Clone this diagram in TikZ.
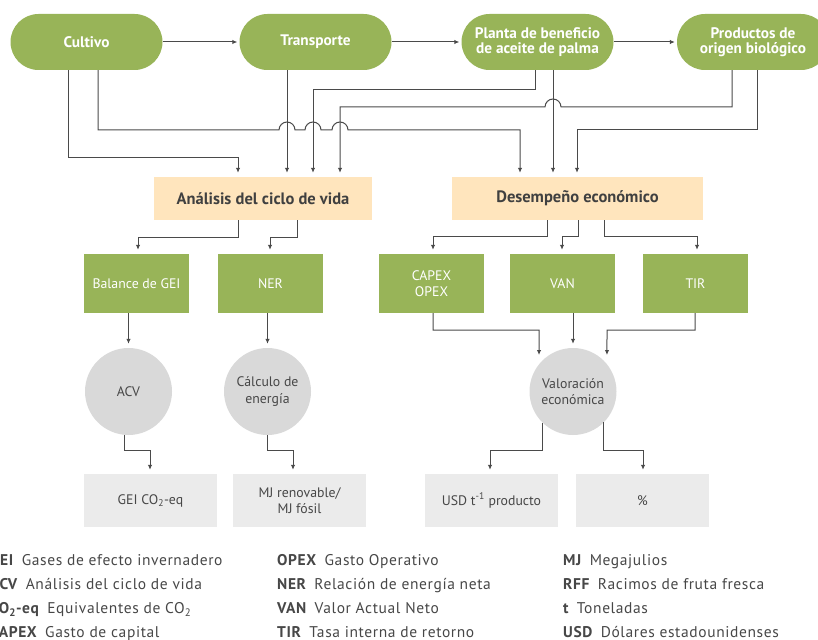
\documentclass[tikz,border=0pt]{standalone}
\usepackage{fontspec}
\setmainfont{PT Sans}
\usetikzlibrary{arrows.meta}

\definecolor{leaf}{HTML}{98B458}
\definecolor{sand}{HTML}{FFE5BD}
\definecolor{disc}{HTML}{D9D9D9}
\definecolor{pale}{HTML}{EBEBEB}
\definecolor{ink}{HTML}{474747}
\definecolor{wire}{HTML}{4A4A4A}

\newcommand{\glossfont}{\fontsize{15.5}{17}\selectfont\addfontfeatures{LetterSpace=4}}

\begin{document}
\begin{tikzpicture}[x=1pt,y=1pt,
  pill/.style={fill=leaf, rounded corners=28pt, minimum width=152pt, minimum height=56pt,
    inner sep=0pt, text=white, align=center, font=\bfseries\fontsize{15.3}{15}\selectfont},
  stage/.style={fill=sand, minimum height=43pt, inner sep=0pt, text=ink!90!black,
    font=\bfseries\fontsize{16.5}{18}\selectfont},
  metric/.style={fill=leaf, minimum width=105pt, minimum height=59pt, inner sep=0pt,
    text=white, align=center, font=\fontsize{13.8}{16.6}\selectfont},
  disk/.style={circle, fill=disc, minimum size=87pt, inner sep=0pt, text=ink,
    align=center, font=\fontsize{13.8}{16.6}\selectfont},
  result/.style={fill=pale, minimum width=133pt, minimum height=53pt, inner sep=0pt,
    text=ink, align=center, font=\fontsize{13.8}{16.6}\selectfont},
  link/.style={draw=wire, line width=1pt, -{Latex[length=5pt,width=4.5pt]}},
  gloss/.style={anchor=base west, inner sep=0pt, text=ink, font=\glossfont}
]
\useasboundingbox (0,0) rectangle (818,-639);

% process chain
\node[pill] (cult)  at (86.5,-42)  {Cultivo};
\node[pill] (trans) at (315.5,-42) {Transporte};
\node[pill] (plant) at (537.5,-42) {Planta de beneficio\\de aceite de palma};
\node[pill] (prod)  at (753,-42)   {Productos de\\origen biológico};

% assessments
\node[stage, minimum width=218pt] (lca) at (263,-198.5)   {Análisis del ciclo de vida};
\node[stage, minimum width=251pt] (eco) at (577.5,-198.5) {Desempeño económico};

% indicators
\node[metric] (ghg)   at (136.5,-283.5) {Balance de GEI};
\node[metric] (ner)   at (270.5,-283.5) {NER};
\node[metric] (capex) at (431.5,-283.5) {CAPEX\\OPEX};
\node[metric] (van)   at (562.5,-283.5) {VAN};
\node[metric] (tir)   at (695.5,-283.5) {TIR};

% calculations
\node[disk] (acv)    at (128.5,-391.5) {ACV};
\node[disk] (energy) at (267.5,-391.5) {Cálculo de\\energía};
\node[disk] (value)  at (573,-391.5)   {Valoración\\económica};

% outputs
\node[result] (co2) at (150.5,-500.5) {GEI CO\textsubscript{2}-eq};
\node[result] (mj)  at (299.5,-500.5) {MJ renovable/\\MJ fósil};
\node[result] (usd) at (491.5,-500.5) {USD t\textsuperscript{-1} producto};
\node[result] (pct) at (642.5,-500.5) {\%};

% chain arrows
\draw[link, shorten >=2pt] (cult) -- (trans);
\draw[link, shorten >=2pt] (trans) -- (plant);
\draw[link, shorten >=2pt] (plant) -- (prod);

% flows into the life cycle analysis
\draw[link, shorten >=4pt] (cult.south -| 68,0) |- (238,-158) -- (lca.north -| 238,0);
\draw[link, shorten >=4pt] (trans.south -| 287,0) -- (lca.north -| 287,0);
\draw[link, shorten >=4pt] (plant.south -| 535,0) |- (313,-90) -- (lca.north -| 313,0);
\draw[link, shorten >=4pt] (prod.south -| 732,0) |- (561,-107)
  arc[start angle=0, end angle=180, radius=8pt] -- (340,-107) -- (lca.north -| 340,0);

% flows into the economic performance
\draw[link, shorten >=4pt] (cult.south -| 98,0) |- (279,-130)
  arc[start angle=180, end angle=0, radius=8pt] -- (305,-130)
  arc[start angle=180, end angle=0, radius=8pt] -- (332,-130)
  arc[start angle=180, end angle=0, radius=8pt] -- (520,-130) -- (eco.north -| 520,0);
\draw[link, shorten >=4pt] (plant.south -| 553,0) -- (eco.north -| 553,0);
\draw[link, shorten >=4pt] (prod.south -| 757,0) |- (577,-130) -- (eco.north -| 577,0);

% assessments to indicators
\draw[link, shorten >=4pt] (lca.south -| 238,0) |- (138,-237) -- (ghg.north -| 138,0);
\draw[link, shorten >=4pt] (lca.south -| 297,0) |- (270,-237) -- (ner.north -| 270,0);
\draw[link, shorten >=4pt] (eco.south -| 547,0) |- (433,-236) -- (capex.north -| 433,0);
\draw[link, shorten >=4pt] (eco.south -| 578,0) |- (562,-236) -- (van.north -| 562,0);
\draw[link, shorten >=4pt] (eco.south -| 604,0) |- (697,-236) -- (tir.north -| 697,0);

% indicators to calculations
\draw[link, shorten >=4pt] (ghg.south -| acv.north) -- (acv.north);
\draw[link, shorten >=4pt] (ner.south -| energy.north) -- (energy.north);
\draw[link, shorten >=9pt] (capex.south -| 433,0) |- (539,-330) -- (value.141);
\draw[link, shorten >=4pt] (van.south -| value.north) -- (value.north);
\draw[link, shorten >=9pt] (tir.south -| 695,0) |- (607,-330) -- (value.39);

% calculations to outputs
\draw[link, shorten >=4pt] (acv.south -| 124,0) |- (150,-450) -- (co2.north -| 150,0);
\draw[link, shorten >=4pt] (energy.south) |- (293,-450) -- (mj.north -| 293,0);
\draw[link, shorten >=4pt] (value.-134) |- (490,-450) -- (usd.north -| 490,0);
\draw[link, shorten >=4pt] (value.-45) |- (643,-450) -- (pct.north -| 643,0);

% abbreviations
\def\gap{\hspace{0.5em}}
\node[gloss] (g1) at (-10,-565.5) {\textbf{GEI}\gap Gases de efecto invernadero};
\node[gloss] (g2) at (-10,-589.5) {\textbf{ACV}\gap Análisis del ciclo de vida};
\node[gloss] (g3) at (-10,-613.5) {\textbf{CO\textsubscript{2}-eq}\gap Equivalentes de CO\textsubscript{2}};
\node[gloss] (g4) at (-10,-637.5) {\textbf{CAPEX}\gap Gasto de capital};
\node[gloss] (g5) at (277,-565.5) {\textbf{OPEX}\gap Gasto Operativo};
\node[gloss] (g6) at (277,-589.5) {\textbf{NER}\gap Relación de energía neta};
\node[gloss] (g7) at (277,-613.5) {\textbf{VAN}\gap Valor Actual Neto};
\node[gloss] (g8) at (277,-637.5) {\textbf{TIR}\gap Tasa interna de retorno};
\node[gloss] (g9)  at (563,-565.5) {\textbf{MJ}\gap Megajulios};
\node[gloss] (g10) at (563,-589.5) {\textbf{RFF}\gap Racimos de fruta fresca};
\node[gloss] (g11) at (563,-613.5) {\textbf{t}\gap Toneladas};
\node[gloss] (g12) at (563,-637.5) {\textbf{USD}\gap Dólares estadounidenses};
\end{tikzpicture}
\end{document}
